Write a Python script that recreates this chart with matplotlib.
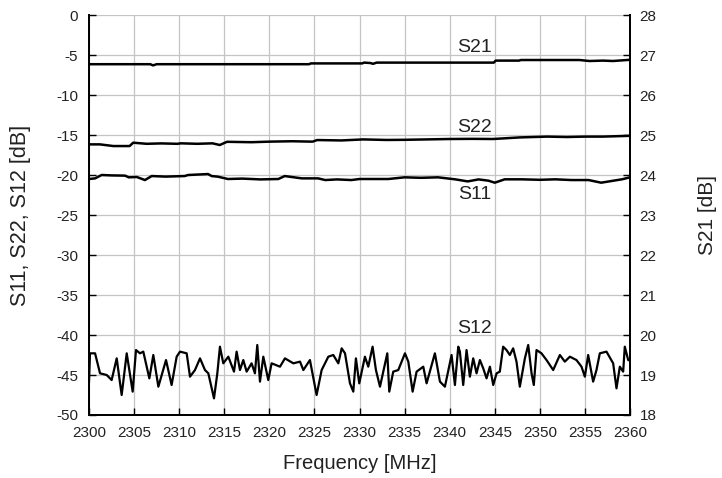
import numpy as np
import matplotlib
matplotlib.use("Agg")
from matplotlib import pyplot as plt

plt.rcParams['font.family'] = ['Liberation Sans', 'DejaVu Sans']
plt.rcParams['axes.unicode_minus'] = False

# S21 (right axis, dB)
s21_f = [2300, 2306.8, 2307.1, 2307.5, 2324.4, 2324.6, 2330.3, 2330.5, 2331.2, 2331.5,
         2331.9, 2344.9, 2345.1, 2347.7, 2347.9, 2354.4, 2355.5, 2357, 2358.1, 2360]
s21_v = [26.77, 26.77, 26.74, 26.77, 26.77, 26.79, 26.79, 26.81, 26.80, 26.78,
         26.81, 26.81, 26.86, 26.86, 26.875, 26.875, 26.85, 26.86, 26.85, 26.88]

# S22 (left axis, dB)
s22_f = [2300, 2301.2, 2302.7, 2304.5, 2304.9, 2306.4, 2308.0, 2309.8, 2310.2, 2312.0,
         2313.7, 2314.5, 2315.3, 2318.0, 2320, 2322.5, 2324.8, 2325.3, 2328.0, 2330.4,
         2333.0, 2335, 2337.5, 2340, 2342.5, 2344.8, 2347.8, 2350.8, 2353.0, 2355.0,
         2357, 2360]
s22_v = [-16.17, -16.17, -16.38, -16.38, -15.96, -16.1, -16.05, -16.1, -16.04, -16.1,
         -16.04, -16.25, -15.85, -15.9, -15.83, -15.78, -15.83, -15.63, -15.68, -15.55,
         -15.62, -15.6, -15.55, -15.5, -15.48, -15.5, -15.3, -15.2, -15.25, -15.2,
         -15.2, -15.1]

# S11 (left axis, dB)
s11_f = [2300, 2300.67, 2301.4, 2302.5, 2304, 2304.4, 2305.3, 2306.2, 2306.95, 2308.5,
         2310.6, 2311, 2313.2, 2313.6, 2314.3, 2315.4, 2317.0, 2319.0, 2321, 2321.7,
         2323.6, 2325.4, 2326.2, 2327.5, 2329.1, 2330, 2333.2, 2335.0, 2336.8, 2338.7,
         2340.6, 2342.0, 2343.2, 2344.3, 2345, 2346.1, 2348, 2350.0, 2351.7, 2353.5,
         2355.4, 2356.8, 2359.1, 2360]
s11_v = [-20.5, -20.42, -20.0, -20.05, -20.08, -20.29, -20.25, -20.63, -20.13, -20.2,
         -20.13, -20.0, -19.88, -20.13, -20.21, -20.5, -20.45, -20.55, -20.5, -20.13,
         -20.42, -20.42, -20.63, -20.55, -20.63, -20.5, -20.5, -20.29, -20.35, -20.29,
         -20.54, -20.8, -20.55, -20.71, -20.96, -20.54, -20.54, -20.6, -20.54, -20.63,
         -20.63, -20.96, -20.54, -20.29]

# S12 (left axis, dB)
s12_f = [2300.0, 2300.11, 2300.67, 2301.22, 2301.96, 2302.51, 2303.07, 2303.62, 2304.18, 2304.84,
         2305.21, 2305.65, 2306.02, 2306.69, 2307.13, 2307.69, 2308.54, 2309.16, 2309.72, 2310.09,
         2310.83, 2311.2, 2311.75, 2312.31, 2312.86, 2313.23, 2313.86, 2314.23, 2314.52, 2314.89,
         2315.45, 2316.08, 2316.37, 2316.74, 2317.11, 2317.48, 2318.03, 2318.4, 2318.66, 2318.96,
         2319.33, 2319.88, 2320.25, 2321.18, 2321.73, 2322.66, 2323.4, 2323.77, 2324.5, 2325.24,
         2325.8, 2326.54, 2327.09, 2327.65, 2328.02, 2328.39, 2328.94, 2329.31, 2329.6, 2329.97,
         2330.6, 2330.97, 2331.45, 2331.82, 2332.27, 2333.08, 2333.3, 2333.74, 2334.3, 2335.04,
         2335.41, 2335.89, 2336.33, 2337.07, 2337.44, 2338.36, 2338.92, 2339.47, 2340.21, 2340.58,
         2340.95, 2341.13, 2341.5, 2341.87, 2342.24, 2342.61, 2342.98, 2343.35, 2343.72, 2344.09,
         2344.46, 2344.83, 2345.2, 2345.56, 2345.93, 2346.3, 2346.67, 2347.04, 2347.41, 2347.78,
         2348.34, 2348.71, 2349.08, 2349.33, 2349.63, 2350.18, 2350.74, 2351.48, 2352.22, 2352.77,
         2353.33, 2354.06, 2354.62, 2354.99, 2355.36, 2355.91, 2356.28, 2356.65, 2357.39, 2358.13,
         2358.5, 2358.87, 2359.24, 2359.42, 2359.8, 2360.0]
s12_v = [-45.83, -42.29, -42.29, -44.79, -45.0, -45.63, -42.92, -47.5, -42.29, -47.08,
         -41.88, -42.29, -42.08, -45.42, -42.5, -46.46, -43.13, -46.25, -42.71, -42.08,
         -42.29, -45.21, -44.38, -42.92, -44.38, -44.79, -47.92, -44.79, -41.46, -43.54,
         -42.71, -44.58, -42.08, -44.38, -43.13, -44.58, -43.54, -44.79, -41.25, -45.83,
         -42.71, -45.63, -43.54, -43.96, -42.92, -43.54, -43.33, -44.38, -43.13, -47.5,
         -44.38, -42.71, -42.5, -43.54, -41.67, -42.29, -46.04, -47.08, -42.92, -46.04,
         -42.71, -43.96, -41.46, -44.38, -46.46, -42.29, -47.08, -44.58, -44.38, -42.29,
         -43.33, -47.08, -44.58, -43.96, -46.04, -42.29, -45.83, -46.46, -42.5, -46.25,
         -41.46, -42.08, -46.25, -41.88, -45.21, -42.92, -44.79, -43.13, -44.17, -45.42,
         -43.96, -46.25, -44.79, -44.58, -41.46, -41.88, -42.5, -41.67, -43.33, -46.46,
         -42.92, -41.25, -44.79, -46.25, -41.88, -42.29, -43.13, -44.38, -42.5, -43.33,
         -42.71, -43.13, -43.96, -45.21, -42.5, -45.83, -44.38, -42.29, -42.08, -43.54,
         -46.67, -43.96, -44.58, -41.46, -43.13, -43.2]

x_ticks = np.arange(2300, 2361, 5)
left_ticks = np.arange(-50, 1, 5)
right_ticks = np.arange(18, 29, 1)

fig = plt.figure(figsize=(7.22, 4.78), dpi=100)
ax = fig.add_axes([0.1233, 0.1318, 0.7493, 0.8368])
ax2 = ax.twinx()

ax.plot(s22_f, s22_v, color='black', lw=1.8)
ax.plot(s11_f, s11_v, color='black', lw=1.8)
ax.plot(s12_f, s12_v, color='black', lw=1.6)
ax2.plot(s21_f, s21_v, color='black', lw=1.8)

ax.set_xlim(2300, 2360)
ax.set_ylim(-50, 0)
ax2.set_ylim(18, 28)
ax.set_xticks(x_ticks)
ax.set_yticks(left_ticks)
ax2.set_yticks(right_ticks)

ax.grid(True, color='#c4c4c4', lw=0.9)
ax.set_axisbelow(True)

for a in (ax, ax2):
    a.spines['top'].set_visible(False)
    for s in a.spines.values():
        s.set_linewidth(1.3)
ax.tick_params(direction='in', length=5, width=1, labelsize=11, pad=8, labelcolor='#222222')
ax2.tick_params(direction='in', length=5, width=1, labelsize=11, pad=7, labelcolor='#222222')

ax.set_xlabel("Frequency [MHz]", fontsize=14.5, labelpad=10, color='#222222')
ax.set_ylabel("S11, S22, S12 [dB]", fontsize=15.5, labelpad=18, color='#222222')
ax2.set_ylabel("S21 [dB]", fontsize=15, labelpad=30, color='#222222')

ax.text(2342.8, -4.0, "S21", ha='center', va='center', fontsize=14, color='#222222')
ax.text(2342.8, -14.0, "S22", ha='center', va='center', fontsize=14, color='#222222')
ax.text(2342.8, -22.4, "S11", ha='center', va='center', fontsize=14, color='#222222')
ax.text(2342.8, -39.2, "S12", ha='center', va='center', fontsize=14, color='#222222')

fig.savefig("out.png", dpi=100)
